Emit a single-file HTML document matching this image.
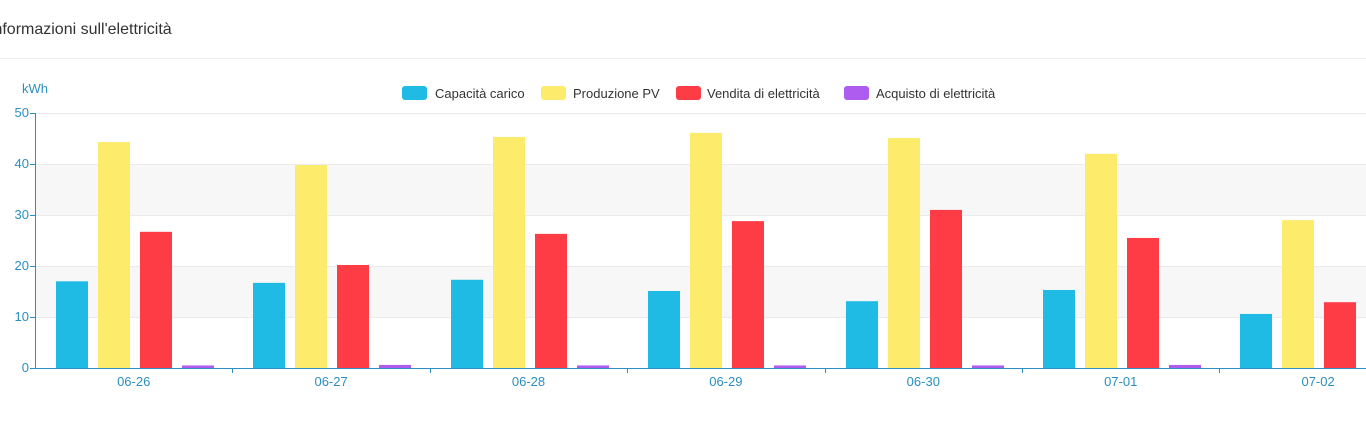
<!DOCTYPE html>
<html><head><meta charset="utf-8"><style>
body{margin:0;background:#fff;width:1366px;height:427px;overflow:hidden;font-family:"Liberation Sans",sans-serif}
</style></head><body>
<svg width="1366" height="427" xmlns="http://www.w3.org/2000/svg" font-family="Liberation Sans, sans-serif">
<text x="-11" y="34" font-size="16" fill="#333">Informazioni sull'elettricità</text>
<line x1="0" y1="58.5" x2="1366" y2="58.5" stroke="#ececec"/>
<rect x="35" y="164" width="1331" height="51" fill="#f7f7f7"/>
<rect x="35" y="266" width="1331" height="51" fill="#f7f7f7"/>
<g stroke="#ebebeb"><line x1="35" y1="113.5" x2="1366" y2="113.5"/><line x1="35" y1="164.5" x2="1366" y2="164.5"/><line x1="35" y1="215.5" x2="1366" y2="215.5"/><line x1="35" y1="266.5" x2="1366" y2="266.5"/><line x1="35" y1="317.5" x2="1366" y2="317.5"/></g>
<text x="22" y="93" font-size="13" fill="#2a8fc0">kWh</text>
<g font-size="13" fill="#2a8fc0" text-anchor="end">
<text x="29" y="117">50</text><text x="29" y="168">40</text><text x="29" y="219">30</text><text x="29" y="270">20</text><text x="29" y="321">10</text><text x="29" y="372">0</text></g>
<g stroke="#2a8fc0"><line x1="35.5" y1="113" x2="35.5" y2="368"/><line x1="30" y1="113.5" x2="35" y2="113.5"/><line x1="30" y1="164.5" x2="35" y2="164.5"/><line x1="30" y1="215.5" x2="35" y2="215.5"/><line x1="30" y1="266.5" x2="35" y2="266.5"/><line x1="30" y1="317.5" x2="35" y2="317.5"/><line x1="30" y1="368.5" x2="35" y2="368.5"/></g>
<g id="bars"></g>
<line x1="35" y1="368.5" x2="1366" y2="368.5" stroke="#2a8fc0"/>
<g id="ticks"></g>
<g font-size="13" fill="#333">
<rect x="402" y="86" width="25" height="14" rx="3" fill="#1fbbe5"/><text x="435" y="98">Capacità carico</text>
<rect x="541" y="86" width="25" height="14" rx="3" fill="#fdec6c"/><text x="573" y="98">Produzione PV</text>
<rect x="676" y="86" width="25" height="14" rx="3" fill="#fd3c46"/><text x="707" y="98">Vendita di elettricità</text>
<rect x="844" y="86" width="25" height="14" rx="3" fill="#ae5cf0"/><text x="876" y="98">Acquisto di elettricità</text>
</g>
</svg>
<script>
var d=[[17,44.3,26.7,0.5],[16.7,39.8,20.2,0.6],[17.3,45.3,26.3,0.5],[15.1,46.1,28.8,0.5],[13.1,45.1,31,0.5],[15.3,42,25.5,0.6],[10.6,29,12.9,0.5]];
var lab=["06-26","06-27","06-28","06-29","06-30","07-01","07-02"];
var c=["#1fbbe5","#fdec6c","#fd3c46","#ae5cf0"],off=[21,63,105,147];
var ns="http://www.w3.org/2000/svg",b=document.getElementById("bars"),t=document.getElementById("ticks");
function el(n,a,p){var e=document.createElementNS(ns,n);for(var k in a)e.setAttribute(k,a[k]);p.appendChild(e);return e;}
var W=197.4;
for(var i=0;i<7;i++){var x0=35+W*i;
for(var j=0;j<4;j++){var h=d[i][j]*5.1;el("rect",{x:Math.round(x0+off[j]),y:368-h,width:32,height:h,fill:c[j]},b);}
el("line",{x1:Math.round(x0+W)+0.5,y1:368,x2:Math.round(x0+W)+0.5,y2:373,stroke:"#2a8fc0"},t);
var tx=el("text",{x:x0+W/2,y:386,"font-size":13,fill:"#2a8fc0","text-anchor":"middle"},t);tx.textContent=lab[i];}
</script>
</body></html>
